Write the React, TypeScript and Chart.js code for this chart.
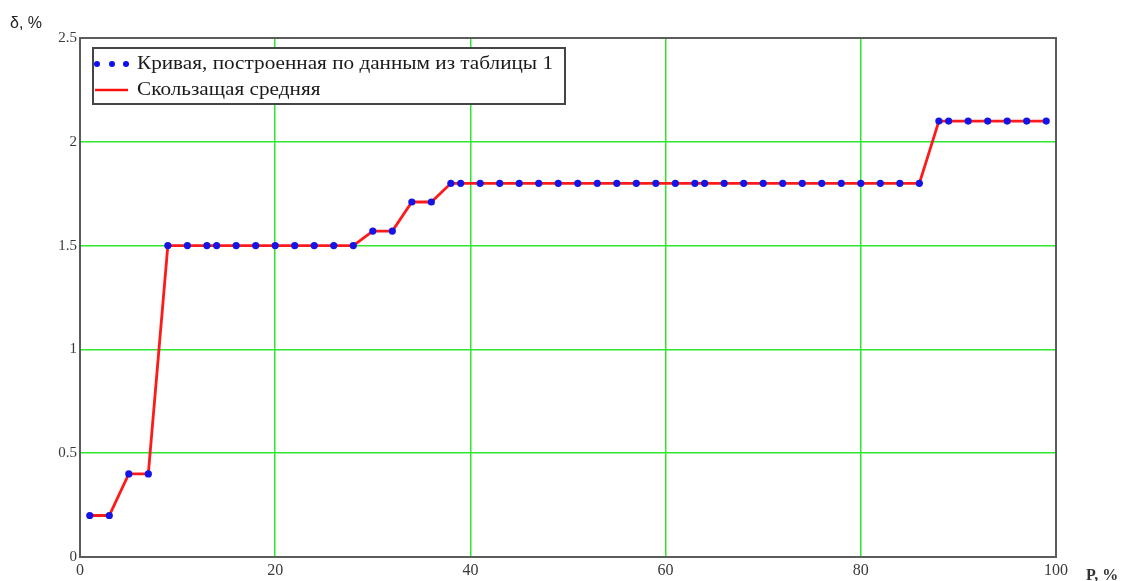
import React, { useEffect, useRef } from "react";
import { Chart, registerables } from "chart.js";

Chart.register(...registerables);

// Probability, % (x) and deviation δ, % (y)
const pValues = [
  1, 3, 5, 7, 9, 11, 13, 14, 16, 18, 20, 22, 24, 26, 28, 30, 32, 34, 36, 38, 39,
  41, 43, 45, 47, 49, 51, 53, 55, 57, 59, 61, 63, 64, 66, 68, 70, 72, 74, 76, 78,
  80, 82, 84, 86, 88, 89, 91, 93, 95, 97, 99,
];

const tableDelta = [
  0.2, 0.2, 0.4, 0.4, 1.5, 1.5, 1.5, 1.5, 1.5, 1.5, 1.5, 1.5, 1.5, 1.5, 1.5,
  1.57, 1.57, 1.71, 1.71, 1.8, 1.8, 1.8, 1.8, 1.8, 1.8, 1.8, 1.8, 1.8, 1.8, 1.8,
  1.8, 1.8, 1.8, 1.8, 1.8, 1.8, 1.8, 1.8, 1.8, 1.8, 1.8, 1.8, 1.8, 1.8, 1.8,
  2.1, 2.1, 2.1, 2.1, 2.1, 2.1, 2.1,
];

const movingAverage = [
  0.2, 0.2, 0.4, 0.4, 1.5, 1.5, 1.5, 1.5, 1.5, 1.5, 1.5, 1.5, 1.5, 1.5, 1.5,
  1.57, 1.57, 1.71, 1.71, 1.8, 1.8, 1.8, 1.8, 1.8, 1.8, 1.8, 1.8, 1.8, 1.8, 1.8,
  1.8, 1.8, 1.8, 1.8, 1.8, 1.8, 1.8, 1.8, 1.8, 1.8, 1.8, 1.8, 1.8, 1.8, 1.8,
  2.1, 2.1, 2.1, 2.1, 2.1, 2.1, 2.1,
];

const xTicks = [0, 20, 40, 60, 80, 100];
const yTicks = [0, 0.5, 1, 1.5, 2, 2.5];

const legendLabels = [
  "Кривая, построенная по данным из таблицы 1",
  "Скользащая средняя",
];
const yTitle = "δ, %";
const xTitle = "P, %";

const SERIF = "'Liberation Serif', 'Times New Roman', serif";
const SANS = "'Liberation Sans', Arial, sans-serif";

// Draws text with a slightly widened face (the legend uses a broad serif).
function wideText(ctx: CanvasRenderingContext2D, text: string, x: number, y: number, stretch: number) {
  ctx.save();
  ctx.translate(x, y);
  ctx.scale(stretch, 1);
  ctx.fillText(text, 0, 0);
  ctx.restore();
}

// Draws the plot frame, the boxed legend and the axis captions.
const framePlugin = {
  id: "frameAndLegend",
  afterDraw(chart: any) {
    const { ctx, chartArea: a } = chart;
    ctx.save();

    ctx.strokeStyle = "#5c5c5c";
    ctx.lineWidth = 2;
    ctx.strokeRect(a.left, a.top, a.right - a.left, a.bottom - a.top);

    // legend box
    const lx = a.left + 13;
    const ly = a.top + 10;
    const lw = 472;
    const lh = 56;
    ctx.fillStyle = "#ffffff";
    ctx.fillRect(lx, ly, lw, lh);
    ctx.strokeStyle = "#454545";
    ctx.lineWidth = 2;
    ctx.strokeRect(lx, ly, lw, lh);

    ctx.fillStyle = "#1010ee";
    [4, 19, 33].forEach((dx) => {
      ctx.beginPath();
      ctx.arc(lx + dx, ly + 16, 3, 0, Math.PI * 2);
      ctx.fill();
    });
    ctx.strokeStyle = "#ff1010";
    ctx.lineWidth = 2.6;
    ctx.beginPath();
    ctx.moveTo(lx + 2, ly + 42);
    ctx.lineTo(lx + 35, ly + 42);
    ctx.stroke();

    ctx.fillStyle = "#1a1a1a";
    ctx.font = `18px ${SERIF}`;
    ctx.textBaseline = "alphabetic";
    ctx.textAlign = "left";
    const w0 = ctx.measureText(legendLabels[0]).width;
    const stretch = 416 / w0;
    wideText(ctx, legendLabels[0], lx + 44, ly + 21, stretch);
    wideText(ctx, legendLabels[1], lx + 44, ly + 47, stretch);

    // axis captions
    ctx.fillStyle = "#222";
    ctx.font = `16px ${SANS}`;
    ctx.fillText(yTitle, 10, 28);
    ctx.fillStyle = "#333";
    ctx.font = `bold 16px ${SERIF}`;
    ctx.fillText(xTitle, 1086, 580);

    ctx.restore();
  },
};

export default function App() {
  const canvasRef = useRef<HTMLCanvasElement | null>(null);

  useEffect(() => {
    if (!canvasRef.current) return;
    const pointsData = pValues.map((p, i) => ({ x: p, y: tableDelta[i] }));
    const avgData = pValues.map((p, i) => ({ x: p, y: movingAverage[i] }));

    const chart = new Chart(canvasRef.current, {
      type: "line",
      data: {
        datasets: [
          {
            label: legendLabels[0],
            data: pointsData,
            showLine: false,
            pointRadius: 3.6,
            pointBackgroundColor: "#1414e6",
            pointBorderWidth: 0,
            borderColor: "#1414e6",
            order: 0,
          },
          {
            label: legendLabels[1],
            data: avgData,
            borderColor: "#ff1a1a",
            borderWidth: 2.8,
            pointRadius: 0,
            tension: 0,
            fill: false,
            order: 1,
          },
        ],
      },
      options: {
        animation: false,
        responsive: false,
        maintainAspectRatio: false,
        layout: { padding: { top: 38, right: 67, left: 0, bottom: 0 } },
        plugins: {
          legend: { display: false },
          tooltip: { enabled: false },
        },
        scales: {
          x: {
            type: "linear",
            min: 0,
            max: 100,
            afterFit: (s: any) => {
              s.height = 24;
            },
            afterBuildTicks: (s: any) => {
              s.ticks = xTicks.map((v) => ({ value: v }));
            },
            ticks: {
              padding: 4,
              color: "#3a3a3a",
              font: { family: SERIF, size: 16 },
              maxRotation: 0,
              callback: (v: any) => String(v),
            },
            grid: {
              color: "#2ee62e",
              lineWidth: 1.5,
              drawTicks: false,
            },
            border: { display: false },
          },
          y: {
            type: "linear",
            min: 0,
            max: 2.5,
            afterFit: (s: any) => {
              s.width = 80;
            },
            afterBuildTicks: (s: any) => {
              s.ticks = yTicks.map((v) => ({ value: v }));
            },
            ticks: {
              padding: 3,
              color: "#3a3a3a",
              font: { family: SERIF, size: 15 },
              callback: (v: any) => String(v),
            },
            grid: {
              color: "#2ee62e",
              lineWidth: 1.5,
              drawTicks: false,
            },
            border: { display: false },
          },
        },
      },
      plugins: [framePlugin],
    });

    return () => chart.destroy();
  }, []);

  return (
    <div
      style={{
        position: "absolute",
        left: 0,
        top: 0,
        width: 1123,
        height: 581,
        background: "#fff",
      }}
    >
      <canvas ref={canvasRef} width={1123} height={581} />
    </div>
  );
}
